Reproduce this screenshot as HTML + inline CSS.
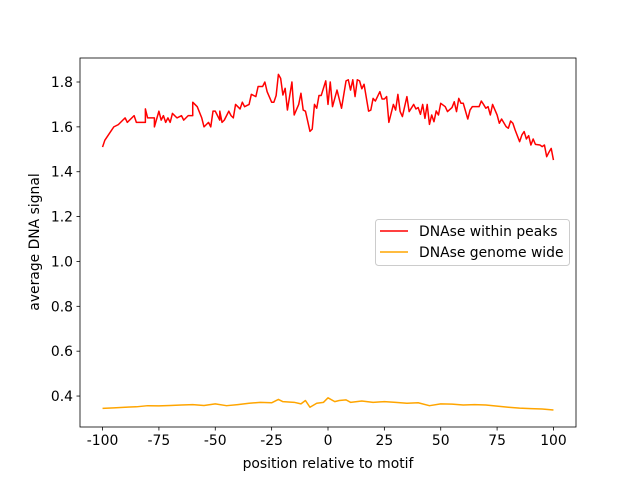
<!DOCTYPE html>
<html><head><meta charset="utf-8"><style>
body{margin:0;background:#fff;}
svg text{font-family:"DejaVu Sans","Liberation Sans",sans-serif;font-size:13.9px;fill:#000;}
</style></head><body>
<svg id="chart" width="640" height="480" xmlns="http://www.w3.org/2000/svg"></svg>
<script>
const peaksX=[-100,-99,-97,-95,-93,-90,-89,-86,-85,-81,-81,-80,-77,-77,-75,-74,-73,-72,-71,-70,-69,-67,-65,-64,-62,-60,-60,-58,-56,-55,-53,-52,-51,-50,-48,-48,-47,-46,-44,-43,-42,-41,-39,-38,-37,-35,-34,-32,-31,-29,-28,-27,-25,-24,-23,-22,-21,-20,-19,-18,-16,-15,-13,-12,-11,-10,-8,-7,-6,-5,-4,-3,-1,0,1,2,4,6,8,9,10,11,12,13,14,15,16,18,19,20,21,23,24,25,26,27,29,30,31,32,33,35,36,38,39,40,41,42,43,44,45,46,47,48,49,50,52,53,55,56,57,58,59,60,62,63,64,66,67,68,69,70,71,72,73,75,76,77,79,80,81,82,83,85,86,87,88,89,90,91,92,94,95,96,97,98,99,100];
const peaksY=[1.51,1.54,1.57,1.60,1.61,1.64,1.62,1.65,1.62,1.62,1.68,1.64,1.64,1.60,1.67,1.63,1.65,1.62,1.64,1.62,1.66,1.64,1.65,1.63,1.65,1.65,1.71,1.69,1.64,1.60,1.62,1.60,1.67,1.67,1.63,1.67,1.62,1.63,1.67,1.65,1.64,1.70,1.68,1.71,1.69,1.70,1.745,1.735,1.78,1.78,1.80,1.757,1.71,1.71,1.74,1.834,1.816,1.742,1.772,1.675,1.80,1.653,1.70,1.75,1.675,1.67,1.58,1.59,1.70,1.683,1.74,1.74,1.805,1.70,1.80,1.69,1.764,1.683,1.805,1.81,1.764,1.81,1.735,1.81,1.805,1.77,1.79,1.67,1.675,1.727,1.715,1.757,1.724,1.724,1.735,1.62,1.70,1.675,1.745,1.668,1.646,1.735,1.668,1.70,1.68,1.686,1.656,1.70,1.638,1.70,1.611,1.653,1.623,1.671,1.653,1.705,1.69,1.668,1.686,1.712,1.668,1.727,1.705,1.705,1.635,1.675,1.69,1.69,1.69,1.715,1.70,1.683,1.69,1.653,1.70,1.653,1.616,1.635,1.601,1.594,1.626,1.616,1.586,1.534,1.564,1.579,1.546,1.561,1.519,1.546,1.522,1.519,1.512,1.519,1.467,1.487,1.504,1.452];
const genomeX=[-100,-95,-90,-85,-80,-75,-70,-65,-60,-55,-50,-45,-40,-35,-30,-25,-22,-20,-15,-12,-10,-8,-5,-2,0,3,5,8,10,15,20,25,30,35,40,45,50,55,60,65,70,75,80,85,90,95,100];
const genomeY=[0.345,0.347,0.350,0.352,0.357,0.356,0.358,0.360,0.362,0.358,0.365,0.357,0.362,0.368,0.372,0.370,0.385,0.375,0.372,0.365,0.380,0.350,0.368,0.372,0.392,0.375,0.380,0.383,0.372,0.378,0.372,0.375,0.372,0.368,0.370,0.357,0.365,0.364,0.360,0.362,0.360,0.355,0.350,0.346,0.344,0.342,0.338];
const xTicks=[-100,-75,-50,-25,0,25,50,75,100];
const yTicks=[0.4,0.6,0.8,1.0,1.2,1.4,1.6,1.8];
const L=80,R=576,T=58,B=427;
const sx=v=>L+(v+110)/220*(R-L);
const sy=v=>B-(v-0.262)/(1.907-0.262)*(B-T);
const svg=document.getElementById('chart');
const NS='http://www.w3.org/2000/svg';
function mk(tag,attrs,parent){const e=document.createElementNS(NS,tag);for(const k in attrs)e.setAttribute(k,attrs[k]);(parent||svg).appendChild(e);return e;}
function line(xs,ys,color,name){
  const p=mk('polyline',{points:xs.map((x,i)=>sx(x)+','+sy(ys[i])).join(' '),fill:'none',stroke:color,'stroke-width':1.5,'stroke-linejoin':'round'});
  
  
}
line(peaksX,peaksY,'#ff0000','series-dnase-within-peaks');
line(genomeX,genomeY,'#ffa500','series-dnase-genome-wide');
const frame=mk('rect',{x:L,y:T,width:R-L,height:B-T,fill:'none',stroke:'#000','stroke-width':0.8});


xTicks.forEach(v=>{
  mk('line',{x1:sx(v),x2:sx(v),y1:B,y2:B+3.5,stroke:'#000','stroke-width':0.8});
  const t=mk('text',{x:sx(v),y:B+18,'text-anchor':'middle'});t.textContent=v;
  
  
});
yTicks.forEach(v=>{
  mk('line',{x1:L-3.5,x2:L,y1:sy(v),y2:sy(v),stroke:'#000','stroke-width':0.8});
  const t=mk('text',{x:L-7,y:sy(v)+5,'text-anchor':'end'});t.textContent=v.toFixed(1);
  
  
});
</script>
<svg width="640" height="480" style="position:absolute;left:0;top:0" xmlns="http://www.w3.org/2000/svg">
<text x="328" y="468" text-anchor="middle" font-family="DejaVu Sans, Liberation Sans, sans-serif" font-size="13.9">position relative to motif</text>
<text x="0" y="0" transform="translate(39,242) rotate(-90)" text-anchor="middle" font-family="DejaVu Sans, Liberation Sans, sans-serif" font-size="13.9">average DNA signal</text>
<g>
<rect x="375.5" y="219.5" width="194" height="46" rx="3" fill="#fff" fill-opacity="0.8" stroke="#ccc"/>
<line x1="380" x2="408" y1="231" y2="231" stroke="#ff0000" stroke-width="1.5"/>
<text x="419" y="236" font-family="DejaVu Sans, Liberation Sans, sans-serif" font-size="13.9">DNAse within peaks</text>
<line x1="380" x2="408" y1="252" y2="252" stroke="#ffa500" stroke-width="1.5"/>
<text x="419" y="257" font-family="DejaVu Sans, Liberation Sans, sans-serif" font-size="13.9">DNAse genome wide</text>
</g>
</svg>
</body></html>
